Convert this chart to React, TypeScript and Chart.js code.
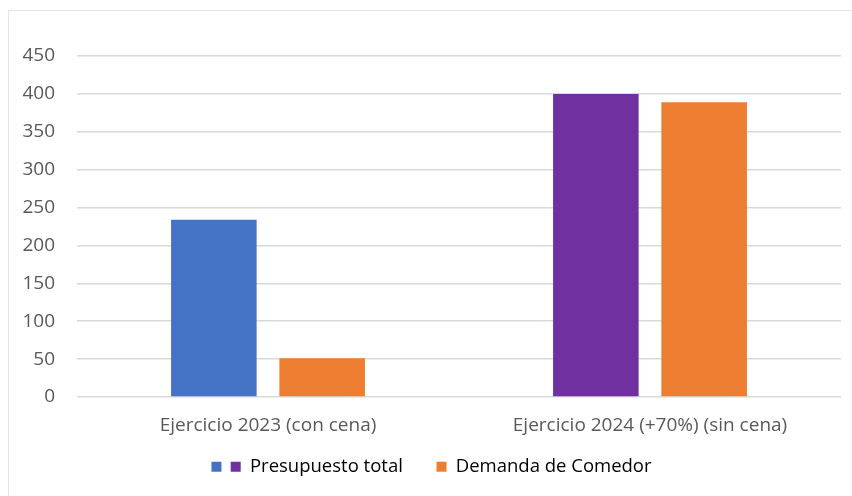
import React, { useEffect, useRef } from "react";
import { Chart, registerables } from "chart.js";

Chart.register(...registerables);

const categories = ["Ejercicio 2023 (con cena)", "Ejercicio 2024 (+70%) (sin cena)"];
const presupuestoTotal = [234, 400];
const demandaComedor = [51, 389];
const presupuestoColors = ["#4472C4", "#7030A0"];
const demandaColor = "#ED7D31";
const seriesNames = ["Presupuesto total", "Demanda de Comedor"];
const yTicks = { min: 0, max: 450, step: 50 };

const FONT = "'Open Sans', 'Noto Sans', sans-serif";
const TEXT = "#595959";
const FS = 19;
const LEGEND_FS = 18.5;

export default function App() {
  const ref = useRef<HTMLCanvasElement | null>(null);

  useEffect(() => {
    document.documentElement.style.overflow = "hidden";
    document.body.style.overflow = "hidden";
    document.body.style.margin = "0";
    document.body.style.background =
      "linear-gradient(180deg, #f3f6f9 0%, #e6edf4 40%, #d3d9e2 75%, #cfd3dc 100%)";
    const canvas = ref.current;
    if (!canvas) return;
    const chart = new Chart(canvas, {
      type: "bar",
      data: {
        labels: categories,
        datasets: [
          {
            label: seriesNames[0],
            data: presupuestoTotal,
            backgroundColor: presupuestoColors,
            borderWidth: 0,
            categoryPercentage: 0.567,
            barPercentage: 0.79,
          },
          {
            label: seriesNames[1],
            data: demandaComedor,
            backgroundColor: demandaColor,
            borderWidth: 0,
            categoryPercentage: 0.567,
            barPercentage: 0.79,
          },
        ],
      },
      options: {
        responsive: false,
        animation: false,
        devicePixelRatio: 1,
        layout: { padding: { left: 22, right: 11, top: 56, bottom: 10 } },
        plugins: {
          tooltip: { enabled: false },
          legend: {
            position: "bottom",
            align: "center",
            labels: {
              boxWidth: 10,
              boxHeight: 10,
              padding: 0,
              color: TEXT,
              font: { family: FONT, size: LEGEND_FS },
              generateLabels: () => [
                { text: "", fillStyle: presupuestoColors[0], strokeStyle: presupuestoColors[0], lineWidth: 0, hidden: false, datasetIndex: 0 },
                { text: seriesNames[0] + "       ", fillStyle: presupuestoColors[1], strokeStyle: presupuestoColors[1], lineWidth: 0, hidden: false, datasetIndex: 0 },
                { text: seriesNames[1], fillStyle: demandaColor, strokeStyle: demandaColor, lineWidth: 0, hidden: false, datasetIndex: 1 },
              ],
            },
          },
        },
        scales: {
          x: {
            grid: { display: false, drawTicks: false },
            border: { display: false },
            ticks: {
              padding: 17,
              color: TEXT,
              font: { family: FONT, size: FS },
              maxRotation: 0,
              autoSkip: false,
            },
            afterFit: (s: any) => {
              s.height = 60.5;
            },
          },
          y: {
            min: yTicks.min,
            max: yTicks.max,
            grid: { color: "#d9d9d9", lineWidth: 1.5, drawTicks: false },
            border: { display: false },
            ticks: {
              stepSize: yTicks.step,
              padding: 22,
              color: TEXT,
              font: { family: FONT, size: FS },
            },
            afterFit: (s: any) => {
              s.width = 55;
            },
          },
        },
      },
    });
    return () => chart.destroy();
  }, []);

  return (
    <div style={{ position: "fixed", left: 0, top: 0, width: 852, height: 496 }}>
      <div
        style={{
          position: "absolute",
          left: 8,
          top: 10,
          width: 844,
          height: 486,
          background: "#ffffff",
          borderTop: "1px solid #e2e4e8",
          borderLeft: "1px solid #e2e4e8",
          boxSizing: "border-box",
        }}
      />
      <canvas
        ref={ref}
        width={852}
        height={496}
        style={{ position: "absolute", left: 0, top: 0, width: 852, height: 496 }}
      />
    </div>
  );
}
